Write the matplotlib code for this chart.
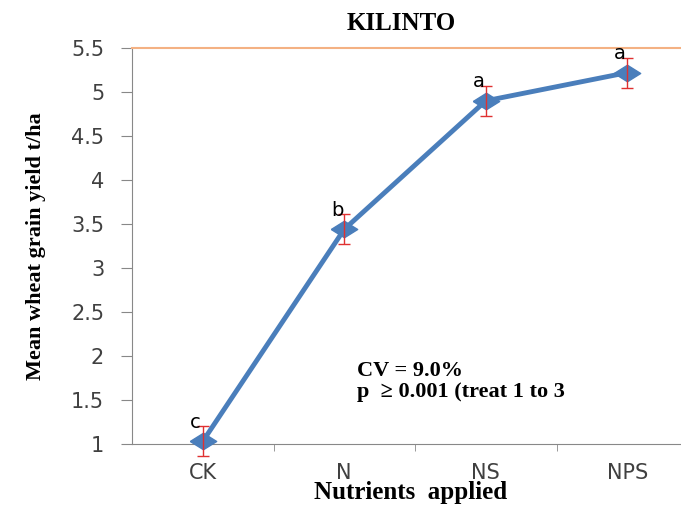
import matplotlib.pyplot as plt

treatments = ['CK', 'N', 'NS', 'NPS']
yield_mean = [1.03, 3.44, 4.90, 5.22]
yield_err = [0.17, 0.17, 0.17, 0.17]
groups = ['c', 'b', 'a', 'a']

fig = plt.figure(figsize=(6.81, 5.12), dpi=100)
W, H = 681, 512
# axes run past the right edge of the figure
ax = fig.add_axes([132 / W, 68 / H, 566 / W, 396 / H])

# wide diamond marker
diamond = [(-1.6, 0), (0, 1), (1.6, 0), (0, -1), (-1.6, 0)]

x = list(range(len(treatments)))
ax.plot(x, yield_mean, color='#4a7ebb', lw=3.5, marker=diamond, ms=19,
        markerfacecolor='#4a7ebb', markeredgecolor='#4a7ebb', zorder=3,
        clip_on=False)
ax.errorbar(x, yield_mean, yerr=yield_err, fmt='none', ecolor='#e03030',
            elinewidth=1, capsize=4, capthick=1, zorder=4, clip_on=False)

for xi, yi, ei, g in zip(x, yield_mean, yield_err, groups):
    ax.text(xi - 0.05, yi + ei - 0.06, g, ha='center', va='bottom',
            fontsize=14, family='DejaVu Sans', color='black', zorder=5)

ax.set_xlim(-0.5, 3.5)
ax.set_ylim(1, 5.5)
ax.set_yticks([1, 1.5, 2, 2.5, 3, 3.5, 4, 4.5, 5, 5.5])
ax.set_yticklabels(['1', '1.5', '2', '2.5', '3', '3.5', '4', '4.5', '5', '5.5'])
ax.set_xticks(x)
ax.set_xticklabels(treatments)
ax.set_xticks([0.5, 1.5, 2.5], minor=True)
ax.tick_params(axis='x', which='major', length=0, pad=14, labelsize=15)
ax.tick_params(axis='x', which='minor', length=5, color='#888888')
ax.tick_params(axis='y', length=8, color='#888888', labelsize=15, pad=12)
for lab in ax.get_xticklabels() + ax.get_yticklabels():
    lab.set_color('#404040')

ax.spines['right'].set_visible(False)
ax.spines['top'].set_color('#f4b183')
ax.spines['top'].set_linewidth(1.5)
ax.spines['left'].set_color('#888888')
ax.spines['bottom'].set_color('#888888')

serif = 'Liberation Serif'
fig.text(401 / W, 1 - 23 / H, 'KILINTO', ha='center', va='center',
         fontsize=18, fontweight='bold', family=serif)
ax.set_ylabel('Mean wheat grain yield t/ha', fontsize=16, fontweight='bold',
              family=serif, labelpad=18)
fig.text(411 / W, 1 - 493 / H, 'Nutrients  applied', ha='center',
         va='center', fontsize=18, fontweight='bold', family=serif)

ax.text(1.09, 1.83, 'CV = 9.0%', fontsize=16, fontweight='bold',
        family=serif, va='center')
ax.text(1.09, 1.59, 'p  \u2265 0.001 (treat 1 to 3', fontsize=16,
        fontweight='bold', family=serif, va='center')

fig.savefig('out.png', dpi=100)
